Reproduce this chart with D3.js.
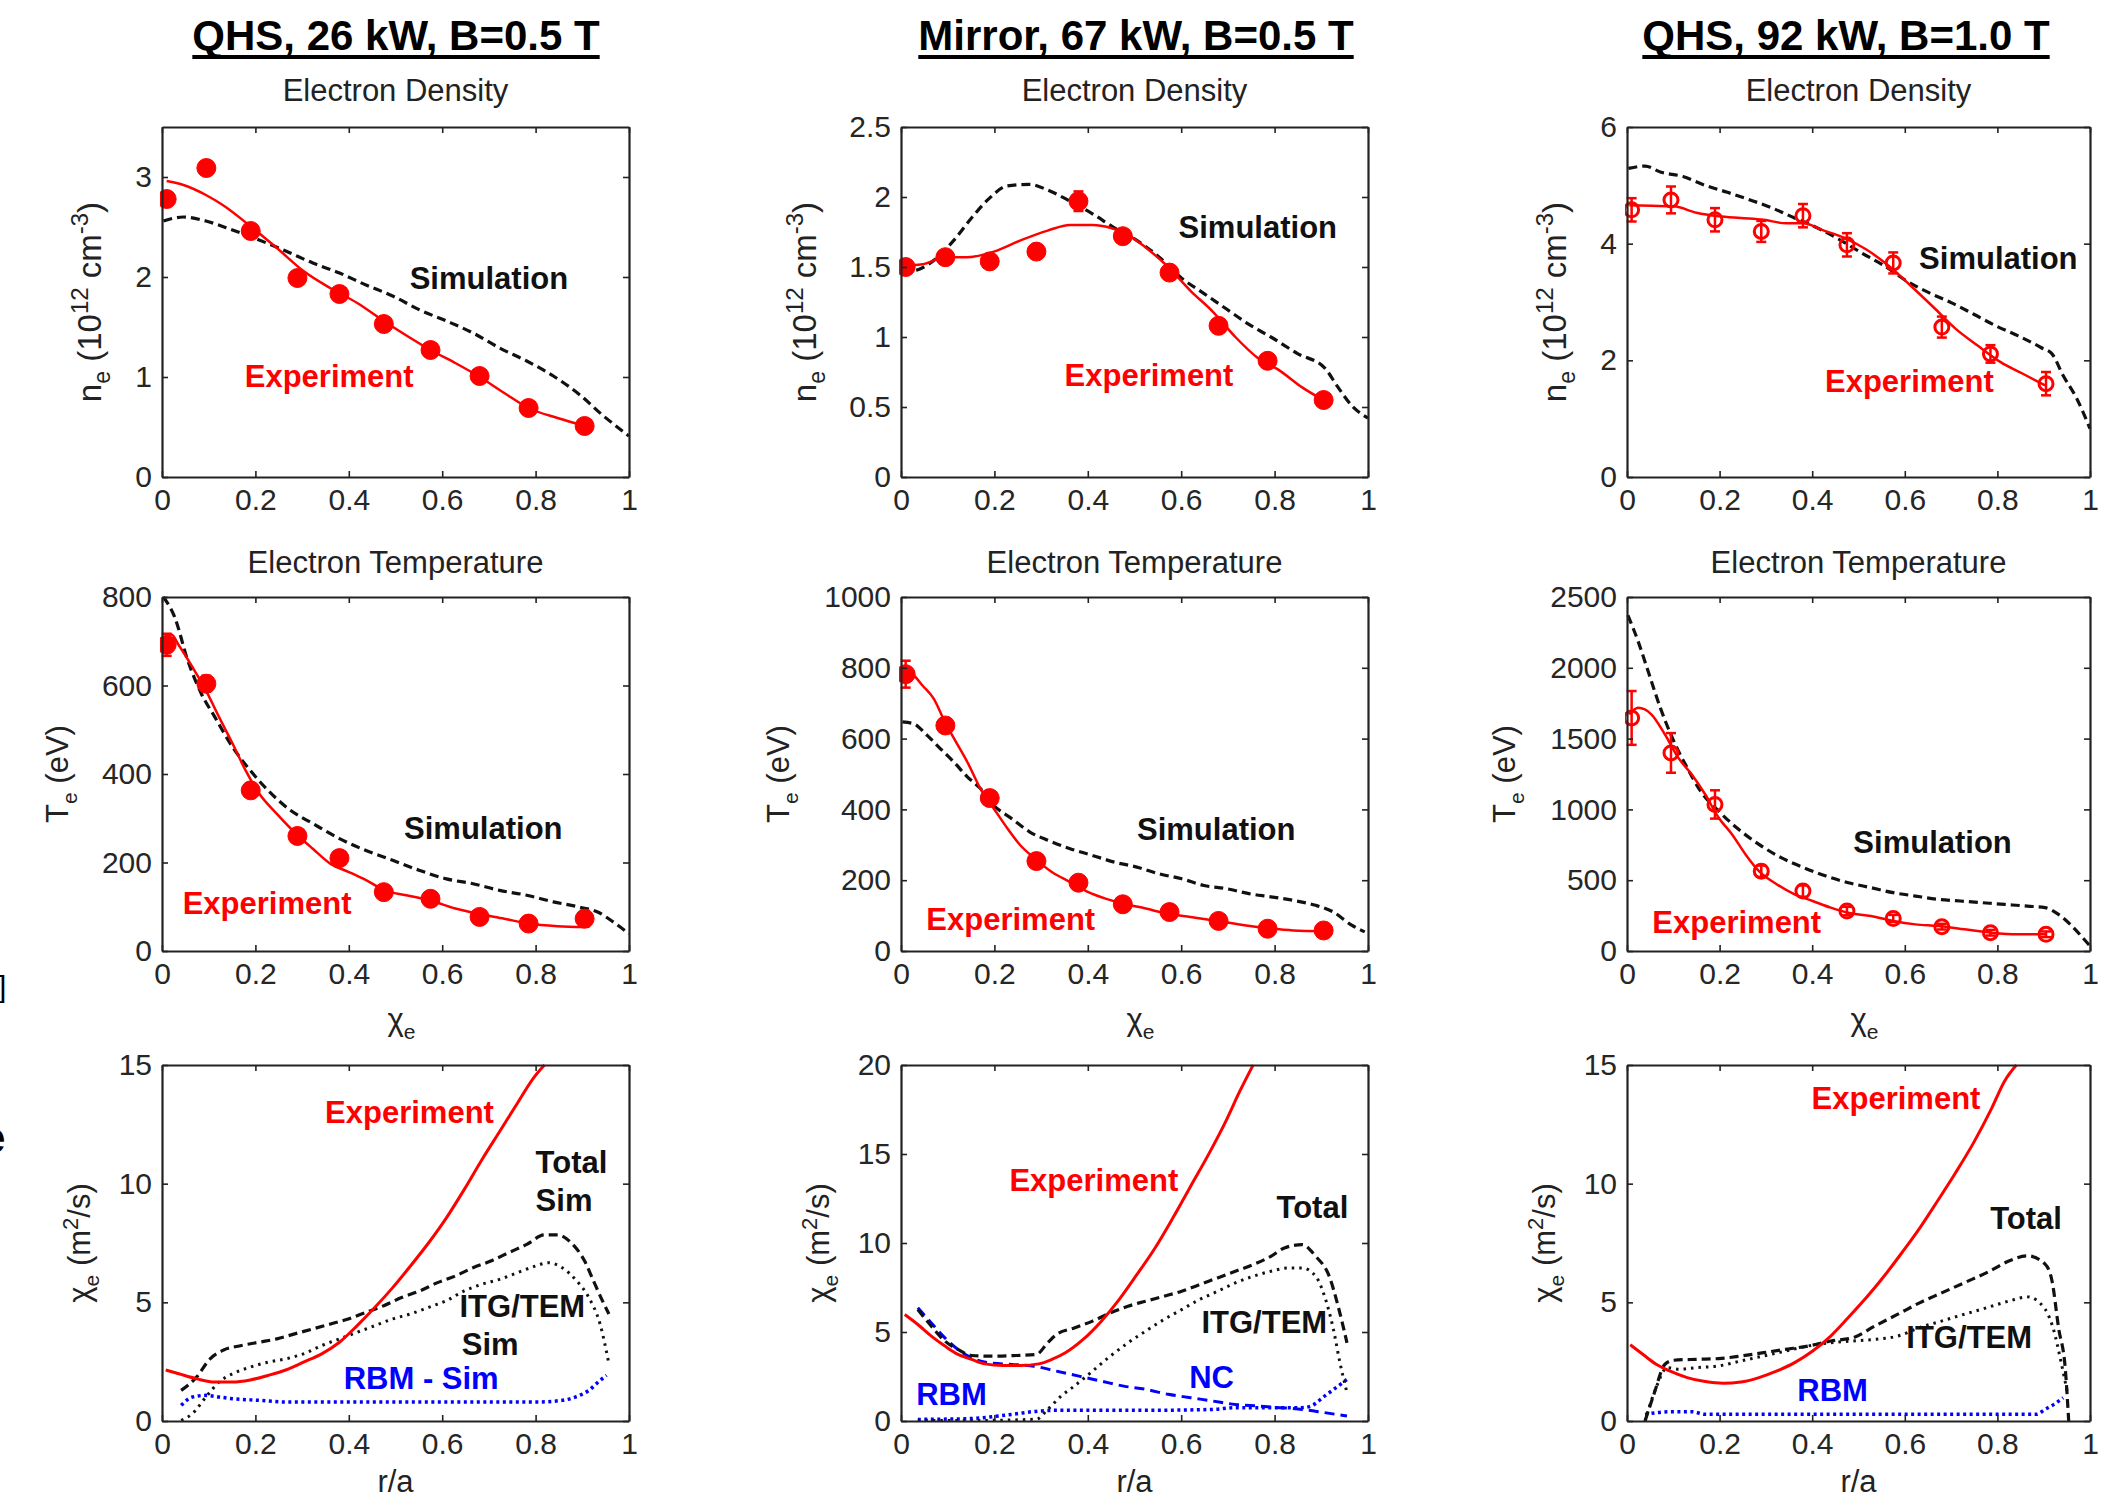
<!DOCTYPE html>
<meta charset="utf-8">
<script src="https://d3js.org/d3.v7.min.js"></script>
<style>
  body { margin: 0; background: #fff; }
  text { font-family: "Liberation Sans", Arial, Helvetica, sans-serif; }
</style>
<div id="chart"></div>
<script>
// radial positions (r/a) of the measured points, same in every profile panel
var rMeas = [0.01, 0.095, 0.19, 0.29, 0.38, 0.475, 0.575, 0.68, 0.785, 0.905];
var xTicks = [0, 0.2, 0.4, 0.6, 0.8, 1];

// ---- QHS, 26 kW, B=0.5 T ----
var qhs26NeExp = [2.78, 3.09, 2.46, 1.99, 1.83, 1.53, 1.27, 1.01, 0.69, 0.51];
var qhs26NeErr = [0.07, 0.07, 0.05, 0.05, 0.05, 0.04, 0.04, 0.04, 0.04, 0.03];
var qhs26NeFit = [[0.01,2.96],[0.046,2.92],[0.094,2.82],[0.13,2.72],[0.194,2.49],[0.246,2.29],[0.303,2.06],[0.36,1.89],[0.418,1.74],[0.475,1.56],[0.532,1.39],[0.575,1.27],[0.628,1.14],[0.677,1.01],[0.733,0.84],[0.785,0.69],[0.847,0.59],[0.906,0.51]];
var qhs26NeSim = [[0.003,2.56],[0.046,2.6],[0.094,2.56],[0.151,2.47],[0.208,2.37],[0.265,2.26],[0.323,2.14],[0.38,2.04],[0.437,1.92],[0.494,1.81],[0.552,1.67],[0.609,1.56],[0.666,1.44],[0.723,1.29],[0.781,1.16],[0.838,1.01],[0.895,0.82],[0.943,0.62],[1.0,0.41]];
var qhs26TeExp = [692, 604, 363, 260, 210, 133, 118, 77, 62, 73];
var qhs26TeErr = [25, 18, 12, 10, 10, 8, 8, 8, 8, 18];
var qhs26TeFit = [[0.006,705],[0.02,715],[0.036,691],[0.065,642],[0.094,589],[0.122,529],[0.151,469],[0.179,408],[0.208,356],[0.246,310],[0.287,265],[0.323,231],[0.361,197],[0.399,179],[0.437,160],[0.477,137],[0.523,126],[0.575,114],[0.628,96],[0.677,84],[0.733,73],[0.785,62],[0.847,56],[0.905,54]];
var qhs26TeSim = [[0.003,800],[0.027,755],[0.055,657],[0.084,582],[0.113,529],[0.151,461],[0.189,408],[0.227,363],[0.275,318],[0.323,288],[0.38,254],[0.437,227],[0.494,205],[0.552,182],[0.609,163],[0.666,152],[0.723,137],[0.781,126],[0.838,111],[0.895,99],[0.933,88],[0.971,62],[1.0,39]];
var qhs26ChiExp = [[0.008,2.15],[0.036,1.99],[0.074,1.78],[0.113,1.64],[0.151,1.64],[0.189,1.73],[0.227,1.92],[0.265,2.15],[0.303,2.48],[0.342,2.83],[0.38,3.32],[0.418,4.02],[0.456,4.79],[0.494,5.62],[0.532,6.53],[0.571,7.51],[0.609,8.56],[0.647,9.75],[0.685,11.01],[0.723,12.2],[0.761,13.39],[0.795,14.44],[0.819,15.0]];
var qhs26ChiTotal = [[0.041,1.29],[0.074,1.85],[0.103,2.62],[0.132,2.99],[0.17,3.18],[0.208,3.32],[0.246,3.46],[0.284,3.67],[0.323,3.88],[0.361,4.09],[0.399,4.3],[0.437,4.58],[0.475,4.86],[0.513,5.2],[0.552,5.48],[0.59,5.83],[0.628,6.11],[0.666,6.46],[0.704,6.74],[0.742,7.09],[0.781,7.44],[0.819,7.84],[0.847,7.84],[0.876,7.51],[0.905,6.74],[0.924,5.9],[0.943,5.07],[0.957,4.51]];
var qhs26ChiItg = [[0.041,0.03],[0.065,0.31],[0.094,1.01],[0.122,1.64],[0.151,1.99],[0.189,2.27],[0.227,2.48],[0.265,2.62],[0.303,2.83],[0.342,3.18],[0.38,3.46],[0.418,3.74],[0.456,4.02],[0.494,4.3],[0.532,4.51],[0.571,4.79],[0.609,5.07],[0.647,5.48],[0.685,5.76],[0.723,5.97],[0.761,6.25],[0.8,6.53],[0.828,6.67],[0.857,6.46],[0.885,5.97],[0.914,5.2],[0.938,4.09],[0.957,2.41]];
var qhs26ChiRbm = [[0.041,0.66],[0.065,1.01],[0.094,1.08],[0.122,1.01],[0.151,0.94],[0.208,0.87],[0.265,0.8],[0.418,0.8],[0.609,0.8],[0.8,0.8],[0.857,0.87],[0.885,1.01],[0.914,1.29],[0.938,1.71],[0.952,1.92]];

// ---- Mirror, 67 kW, B=0.5 T ----
var mir67NeExp = [1.50, 1.57, 1.54, 1.61, 1.97, 1.72, 1.46, 1.08, 0.83, 0.55];
var mir67NeErr = [0.04, 0.04, 0.03, 0.03, 0.07, 0.04, 0.04, 0.03, 0.03, 0.03];
var mir67NeFit = [[0.003,1.51],[0.046,1.52],[0.094,1.57],[0.142,1.57],[0.199,1.61],[0.256,1.69],[0.314,1.76],[0.362,1.8],[0.41,1.8],[0.448,1.78],[0.486,1.73],[0.524,1.64],[0.572,1.5],[0.62,1.33],[0.668,1.18],[0.716,1.0],[0.764,0.85],[0.811,0.76],[0.859,0.64],[0.904,0.55]];
var mir67NeSim = [[0.003,1.46],[0.036,1.48],[0.075,1.56],[0.113,1.69],[0.151,1.85],[0.189,1.99],[0.228,2.08],[0.276,2.09],[0.314,2.05],[0.362,1.97],[0.41,1.88],[0.457,1.78],[0.505,1.69],[0.553,1.57],[0.601,1.42],[0.649,1.31],[0.697,1.2],[0.745,1.09],[0.792,1.0],[0.85,0.88],[0.907,0.78],[0.936,0.64],[0.965,0.51],[1.0,0.42]];
var mir67TeExp = [782, 637, 432, 254, 193, 132, 110, 85, 63, 58];
var mir67TeErr = [38, 20, 15, 12, 12, 10, 10, 8, 8, 8];
var mir67TeFit = [[0.003,793],[0.027,779],[0.046,750],[0.07,713],[0.094,647],[0.118,590],[0.142,534],[0.17,459],[0.199,402],[0.228,346],[0.256,298],[0.287,261],[0.323,223],[0.362,195],[0.4,167],[0.438,148],[0.475,134],[0.524,120],[0.572,105],[0.62,96],[0.678,85],[0.735,73],[0.783,65],[0.84,58],[0.904,56]];
var mir67TeSim = [[0.003,647],[0.027,642],[0.056,609],[0.084,572],[0.113,534],[0.142,492],[0.17,459],[0.199,411],[0.237,374],[0.276,336],[0.314,313],[0.362,289],[0.41,270],[0.457,251],[0.505,237],[0.553,218],[0.601,204],[0.649,185],[0.697,176],[0.745,162],[0.792,153],[0.84,143],[0.888,129],[0.926,110],[0.965,73],[0.993,54]];
var mir67ChiExp = [[0.008,5.98],[0.036,5.42],[0.065,4.77],[0.094,4.21],[0.122,3.74],[0.151,3.46],[0.18,3.21],[0.218,3.12],[0.256,3.12],[0.295,3.21],[0.323,3.46],[0.352,3.83],[0.39,4.58],[0.429,5.61],[0.467,6.82],[0.505,8.22],[0.544,9.72],[0.582,11.4],[0.62,13.18],[0.658,14.95],[0.697,16.92],[0.725,18.5],[0.754,20.0]];
var mir67ChiTotal = [[0.036,6.26],[0.065,5.33],[0.094,4.49],[0.122,4.02],[0.151,3.68],[0.199,3.64],[0.247,3.68],[0.29,3.74],[0.314,4.39],[0.333,4.86],[0.371,5.23],[0.41,5.61],[0.448,6.07],[0.486,6.45],[0.524,6.73],[0.563,7.01],[0.601,7.29],[0.639,7.66],[0.678,8.04],[0.716,8.41],[0.754,8.79],[0.792,9.25],[0.821,9.72],[0.859,9.91],[0.888,9.25],[0.917,8.13],[0.936,6.45],[0.955,4.39]];
var mir67ChiItg = [[0.036,0.03],[0.15,0.03],[0.29,0.1],[0.314,0.65],[0.343,1.4],[0.371,1.96],[0.41,2.8],[0.448,3.64],[0.486,4.39],[0.524,5.05],[0.563,5.7],[0.601,6.26],[0.639,6.82],[0.678,7.29],[0.716,7.76],[0.754,8.13],[0.792,8.41],[0.83,8.6],[0.859,8.6],[0.888,8.13],[0.907,7.01],[0.926,5.14],[0.94,3.27],[0.955,1.59]];
var mir67ChiNc = [[0.036,6.36],[0.065,5.51],[0.094,4.67],[0.122,4.02],[0.151,3.55],[0.189,3.27],[0.237,3.18],[0.285,3.08],[0.333,2.8],[0.381,2.52],[0.429,2.24],[0.477,1.96],[0.524,1.78],[0.572,1.5],[0.62,1.31],[0.668,1.12],[0.716,0.93],[0.764,0.84],[0.811,0.75],[0.859,0.65],[0.907,0.47],[0.955,0.28]];
var mir67ChiRbm = [[0.036,0.09],[0.142,0.13],[0.237,0.37],[0.295,0.56],[0.333,0.6],[0.524,0.6],[0.668,0.65],[0.716,0.75],[0.859,0.75],[0.878,0.84],[0.907,1.4],[0.936,1.96],[0.955,2.34]];

// ---- QHS, 92 kW, B=1.0 T ----
var qhs92NeExp = [4.58, 4.75, 4.41, 4.21, 4.48, 3.98, 3.67, 2.57, 2.11, 1.60];
var qhs92NeErr = [0.2, 0.23, 0.2, 0.18, 0.2, 0.2, 0.18, 0.18, 0.15, 0.2];
var qhs92NeFit = [[0.005,4.66],[0.053,4.65],[0.101,4.64],[0.15,4.53],[0.198,4.47],[0.246,4.44],[0.295,4.41],[0.343,4.35],[0.382,4.35],[0.42,4.24],[0.469,4.1],[0.517,3.9],[0.565,3.62],[0.614,3.27],[0.662,2.91],[0.71,2.54],[0.758,2.25],[0.807,1.97],[0.855,1.77],[0.903,1.57]];
var qhs92NeSim = [[0.003,5.29],[0.039,5.33],[0.072,5.23],[0.121,5.15],[0.169,5.0],[0.217,4.88],[0.266,4.75],[0.314,4.61],[0.362,4.44],[0.411,4.27],[0.459,4.07],[0.507,3.84],[0.556,3.62],[0.604,3.36],[0.652,3.16],[0.7,2.99],[0.749,2.79],[0.797,2.59],[0.845,2.42],[0.894,2.22],[0.918,2.11],[0.942,1.74],[0.971,1.35],[1.0,0.83]];
var qhs92TeExp = [1646, 1399, 1035, 564, 423, 282, 230, 172, 129, 118];
var qhs92TeErr = [190, 140, 100, 40, 40, 30, 25, 20, 20, 20];
var qhs92TeFit = [[0.005,1670],[0.024,1717],[0.053,1670],[0.082,1529],[0.111,1364],[0.14,1246],[0.169,1105],[0.198,941],[0.227,823],[0.256,682],[0.285,564],[0.324,470],[0.362,400],[0.401,353],[0.44,306],[0.478,270],[0.527,247],[0.575,212],[0.623,188],[0.672,176],[0.729,153],[0.787,129],[0.845,118],[0.903,118]];
var qhs92TeSim = [[0.002,2371],[0.024,2187],[0.048,1952],[0.072,1717],[0.101,1482],[0.13,1294],[0.159,1129],[0.198,988],[0.237,870],[0.285,753],[0.333,659],[0.382,588],[0.43,529],[0.478,482],[0.527,447],[0.575,412],[0.623,388],[0.672,365],[0.72,353],[0.768,341],[0.816,329],[0.865,317],[0.903,306],[0.932,259],[0.961,176],[0.981,106],[1.0,35]];
var qhs92ChiExp = [[0.007,3.21],[0.034,2.81],[0.063,2.39],[0.092,2.11],[0.13,1.83],[0.169,1.66],[0.208,1.59],[0.246,1.64],[0.285,1.83],[0.324,2.11],[0.362,2.46],[0.401,2.95],[0.44,3.58],[0.478,4.36],[0.517,5.2],[0.556,6.12],[0.594,7.1],[0.633,8.15],[0.671,9.28],[0.71,10.47],[0.749,11.74],[0.787,13.15],[0.816,14.34],[0.841,15.0]];
var qhs92ChiTotal = [[0.039,0],[0.058,1.12],[0.082,2.39],[0.101,2.56],[0.15,2.6],[0.198,2.63],[0.246,2.74],[0.295,2.88],[0.343,3.02],[0.391,3.16],[0.44,3.37],[0.488,3.51],[0.536,4.01],[0.585,4.5],[0.633,4.99],[0.681,5.41],[0.729,5.83],[0.778,6.26],[0.826,6.75],[0.865,6.96],[0.903,6.61],[0.918,5.9],[0.932,3.94],[0.947,2.11],[0.954,0]];
var qhs92ChiItg = [[0.039,0],[0.063,1.41],[0.087,2.25],[0.111,2.18],[0.15,2.25],[0.198,2.32],[0.246,2.53],[0.295,2.74],[0.343,2.95],[0.391,3.16],[0.44,3.3],[0.488,3.37],[0.536,3.44],[0.585,3.58],[0.633,3.94],[0.681,4.22],[0.729,4.5],[0.778,4.78],[0.826,5.06],[0.865,5.23],[0.903,4.71],[0.922,3.8],[0.937,2.53],[0.952,1.12]];
var qhs92ChiRbm = [[0.039,0.28],[0.092,0.39],[0.14,0.39],[0.169,0.28],[0.285,0.28],[0.478,0.28],[0.671,0.28],[0.884,0.28],[0.903,0.49],[0.922,0.7],[0.942,0.98]];

var titles = ["QHS, 26 kW, B=0.5 T", "Mirror, 67 kW, B=0.5 T", "QHS, 92 kW, B=1.0 T"];

// page layout (pixels)
var colLeft = [162, 901, 1627], colWidth = [467, 467, 463];
var rowTop = [127, 597, 1065], rowHeight = [350, 354, 356];
var titleX = [396, 1136, 1846];
var yLabelOff = [[-61, -85, -61], [-94, -112, -112], [-72, -72, -72]];

var styles = {
  fit:   {stroke: "#ff0000", width: 2.5, dash: null},
  exp:   {stroke: "#ff0000", width: 3, dash: null},
  sim:   {stroke: "#111", width: 3.2, dash: "9,5"},
  itg:   {stroke: "#111", width: 3, dash: "2.5,5"},
  nc:    {stroke: "#0000ff", width: 3, dash: "10,6"},
  rbm:   {stroke: "#0000ff", width: 3.5, dash: "3,3.5"}
};

function lbl(text, x, y, color, anchor) { return {text: text, x: x, y: y, color: color || "#111", anchor: anchor || "middle"}; }

var panels = [
  {row:0, col:0, yMax:3.5, yTicks:[0,1,2,3], exp:qhs26NeExp, err:qhs26NeErr, open:false,
   curves:[{d:qhs26NeSim,s:"sim"},{d:qhs26NeFit,s:"fit"}],
   labels:[lbl("Simulation",0.70,1.88), lbl("Experiment",0.358,0.9,"#ff0000")]},
  {row:0, col:1, yMax:2.5, yTicks:[0,0.5,1,1.5,2,2.5], exp:mir67NeExp, err:mir67NeErr, open:false,
   curves:[{d:mir67NeSim,s:"sim"},{d:mir67NeFit,s:"fit"}],
   labels:[lbl("Simulation",0.764,1.71), lbl("Experiment",0.531,0.65,"#ff0000")]},
  {row:0, col:2, yMax:6, yTicks:[0,2,4,6], exp:qhs92NeExp, err:qhs92NeErr, open:true,
   curves:[{d:qhs92NeSim,s:"sim"},{d:qhs92NeFit,s:"fit"}],
   labels:[lbl("Simulation",0.802,3.57), lbl("Experiment",0.61,1.46,"#ff0000")]},
  {row:1, col:0, yMax:800, yTicks:[0,200,400,600,800], exp:qhs26TeExp, err:qhs26TeErr, open:false,
   curves:[{d:qhs26TeSim,s:"sim"},{d:qhs26TeFit,s:"fit"}],
   labels:[lbl("Simulation",0.688,254), lbl("Experiment",0.225,84,"#ff0000")]},
  {row:1, col:1, yMax:1000, yTicks:[0,200,400,600,800,1000], exp:mir67TeExp, err:mir67TeErr, open:false,
   curves:[{d:mir67TeSim,s:"sim"},{d:mir67TeFit,s:"fit"}],
   labels:[lbl("Simulation",0.675,313), lbl("Experiment",0.235,58,"#ff0000")]},
  {row:1, col:2, yMax:2500, yTicks:[0,500,1000,1500,2000,2500], exp:qhs92TeExp, err:qhs92TeErr, open:true,
   curves:[{d:qhs92TeSim,s:"sim"},{d:qhs92TeFit,s:"fit"}],
   labels:[lbl("Simulation",0.66,694), lbl("Experiment",0.237,129,"#ff0000")]},
  {row:2, col:0, yMax:15, yTicks:[0,5,10,15],
   curves:[{d:qhs26ChiRbm,s:"rbm"},{d:qhs26ChiItg,s:"itg"},{d:qhs26ChiTotal,s:"sim"},{d:qhs26ChiExp,s:"exp"}],
   labels:[lbl("Experiment",0.53,12.55,"#ff0000"), lbl("Total",0.80,10.45,null,"start"), lbl("Sim",0.80,8.84,null,"start"),
           lbl("ITG/TEM",0.637,4.37,null,"start"), lbl("Sim",0.642,2.76,null,"start"), lbl("RBM - Sim",0.555,1.36,"#0000ff")]},
  {row:2, col:1, yMax:20, yTicks:[0,5,10,15,20],
   curves:[{d:mir67ChiRbm,s:"rbm"},{d:mir67ChiNc,s:"nc"},{d:mir67ChiItg,s:"itg"},{d:mir67ChiTotal,s:"sim"},{d:mir67ChiExp,s:"exp"}],
   labels:[lbl("Experiment",0.413,12.9,"#ff0000"), lbl("Total",0.881,11.4), lbl("ITG/TEM",0.778,4.92),
           lbl("NC",0.665,1.87,"#0000ff"), lbl("RBM",0.108,0.88,"#0000ff")]},
  {row:2, col:2, yMax:15, yTicks:[0,5,10,15],
   curves:[{d:qhs92ChiRbm,s:"rbm"},{d:qhs92ChiItg,s:"itg"},{d:qhs92ChiTotal,s:"sim"},{d:qhs92ChiExp,s:"exp"}],
   labels:[lbl("Experiment",0.581,13.15,"#ff0000"), lbl("Total",0.862,8.08), lbl("ITG/TEM",0.739,3.09),
           lbl("RBM",0.444,0.84,"#0000ff")]}
];

var svg = d3.select("#chart").append("svg")
  .attr("width", 2108).attr("height", 1502)
  .style("background", "#fff");
var defs = svg.append("defs");

// column titles, bold and underlined
titles.forEach(function(t, i) {
  var tx = svg.append("text")
    .attr("x", titleX[i]).attr("y", 50)
    .attr("text-anchor", "middle")
    .attr("font-size", 42).attr("font-weight", "bold").attr("fill", "#000")
    .text(t);
  var len = tx.node().getComputedTextLength();
  svg.append("rect").attr("x", titleX[i] - len / 2).attr("y", 55).attr("width", len).attr("height", 4).attr("fill", "#000");
});

// row subtitles and in-between labels
[0, 1, 2].forEach(function(c) {
  var cx = colLeft[c] + colWidth[c] / 2;
  svg.append("text").attr("x", cx).attr("y", 101).attr("text-anchor", "middle")
    .attr("font-size", 31).attr("fill", "#222").text("Electron Density");
  svg.append("text").attr("x", cx).attr("y", 573).attr("text-anchor", "middle")
    .attr("font-size", 31).attr("fill", "#222").text("Electron Temperature");
  var chi = svg.append("text").attr("x", cx - 8).attr("y", 1030).attr("font-size", 31).attr("fill", "#222");
  chi.append("tspan").text("χ");
  chi.append("tspan").attr("font-size", 21).attr("dy", 9).text("e");
  svg.append("text").attr("x", cx).attr("y", 1492).attr("text-anchor", "middle")
    .attr("font-size", 31).attr("fill", "#222").text("r/a");
});

// fragments of text that the source figure cuts off at its left edge
svg.append("text").attr("x", -2).attr("y", 997).attr("font-size", 30).attr("fill", "#000").text("]");
svg.append("text").attr("x", -19).attr("y", 1153).attr("font-size", 44).attr("font-weight", "bold").attr("fill", "#000").text("e");

function yLabel(g, p, h) {
  var t = g.append("text")
    .attr("transform", "translate(" + yLabelOff[p.row][p.col] + "," + (h / 2) + ") rotate(-90)")
    .attr("text-anchor", "middle").attr("font-size", 31).attr("fill", "#222");
  if (p.row === 0) {
    t.attr("font-size", 33);
    t.append("tspan").text("n");
    t.append("tspan").attr("font-size", 23).attr("dy", 9).text("e");
    t.append("tspan").attr("dy", -9).text(" (10");
    t.append("tspan").attr("font-size", 24).attr("dy", -13).text("12");
    t.append("tspan").attr("dy", 13).text(" cm");
    t.append("tspan").attr("font-size", 24).attr("dy", -13).text("-3");
    t.append("tspan").attr("dy", 13).text(")");
  } else if (p.row === 1) {
    t.append("tspan").text("T");
    t.append("tspan").attr("font-size", 21).attr("dy", 9).text("e");
    t.append("tspan").attr("dy", -9).text(" (eV)");
  } else {
    t.append("tspan").text("χ");
    t.append("tspan").attr("font-size", 21).attr("dy", 9).text("e");
    t.append("tspan").attr("dy", -9).text(" (m");
    t.append("tspan").attr("font-size", 22).attr("dy", -12).text("2");
    t.append("tspan").attr("dy", 12).text("/s)");
  }
}

panels.forEach(function(p, i) {
  var w = colWidth[p.col], h = rowHeight[p.row];
  var g = svg.append("g").attr("transform", "translate(" + colLeft[p.col] + "," + rowTop[p.row] + ")");

  var x = d3.scaleLinear().domain([0, 1]).range([0, w]);
  var y = d3.scaleLinear().domain([0, p.yMax]).range([h, 0]);

  defs.append("clipPath").attr("id", "clip" + i)
    .append("rect").attr("x", -2).attr("y", -2).attr("width", w + 4).attr("height", h + 4);
  var plot = g.append("g").attr("clip-path", "url(#clip" + i + ")");

  var line = d3.line().x(function(d) { return x(d[0]); }).y(function(d) { return y(d[1]); })
    .curve(d3.curveMonotoneX);

  p.curves.forEach(function(c) {
    var st = styles[c.s];
    plot.append("path").datum(c.d)
      .attr("fill", "none")
      .attr("stroke", st.stroke)
      .attr("stroke-width", st.width)
      .attr("stroke-dasharray", st.dash)
      .attr("d", line);
  });

  if (p.exp) {
    var pts = p.exp.map(function(v, k) { return {r: rMeas[k], v: v, e: p.err[k]}; });
    var eb = plot.append("g").attr("stroke", "#ff0000").attr("stroke-width", 2.5);
    pts.forEach(function(d) {
      var cx = x(d.r), y1 = y(d.v + d.e), y2 = y(d.v - d.e);
      eb.append("line").attr("x1", cx).attr("x2", cx).attr("y1", y1).attr("y2", y2);
      eb.append("line").attr("x1", cx - 5).attr("x2", cx + 5).attr("y1", y1).attr("y2", y1);
      eb.append("line").attr("x1", cx - 5).attr("x2", cx + 5).attr("y1", y2).attr("y2", y2);
    });
    plot.selectAll(".pt").data(pts).enter().append("circle")
      .attr("cx", function(d) { return x(d.r); })
      .attr("cy", function(d) { return y(d.v); })
      .attr("r", p.open ? 7 : 9.5)
      .attr("fill", p.open ? "none" : "#ff0000")
      .attr("stroke", "#ff0000")
      .attr("stroke-width", p.open ? 3 : 1);
  }

  p.labels.forEach(function(l) {
    g.append("text")
      .attr("x", x(l.x)).attr("y", y(l.y))
      .attr("text-anchor", l.anchor)
      .attr("font-size", 31).attr("font-weight", "bold")
      .attr("fill", l.color)
      .text(l.text);
  });

  // boxed axes with inward ticks on all four sides
  var fmt = function(d) { return String(d); };
  var axes = [
    g.append("g").attr("transform", "translate(0," + h + ")")
      .call(d3.axisBottom(x).tickValues(xTicks).tickFormat(fmt).tickSize(-6).tickSizeOuter(0).tickPadding(12)),
    g.append("g")
      .call(d3.axisTop(x).tickValues(xTicks).tickFormat("").tickSize(-6).tickSizeOuter(0)),
    g.append("g")
      .call(d3.axisLeft(y).tickValues(p.yTicks).tickFormat(fmt).tickSize(-6).tickSizeOuter(0).tickPadding(10)),
    g.append("g").attr("transform", "translate(" + w + ",0)")
      .call(d3.axisRight(y).tickValues(p.yTicks).tickFormat("").tickSize(-6).tickSizeOuter(0))
  ];
  axes.forEach(function(a) {
    a.attr("font-size", 30).attr("font-family", "'Liberation Sans', Arial, sans-serif");
    a.select(".domain").attr("stroke", "#222").attr("stroke-width", 2.2);
    a.selectAll(".tick line").attr("stroke", "#222").attr("stroke-width", 1.6);
    a.selectAll(".tick text").attr("fill", "#262626");
  });

  yLabel(g, p, h);
});
</script>
